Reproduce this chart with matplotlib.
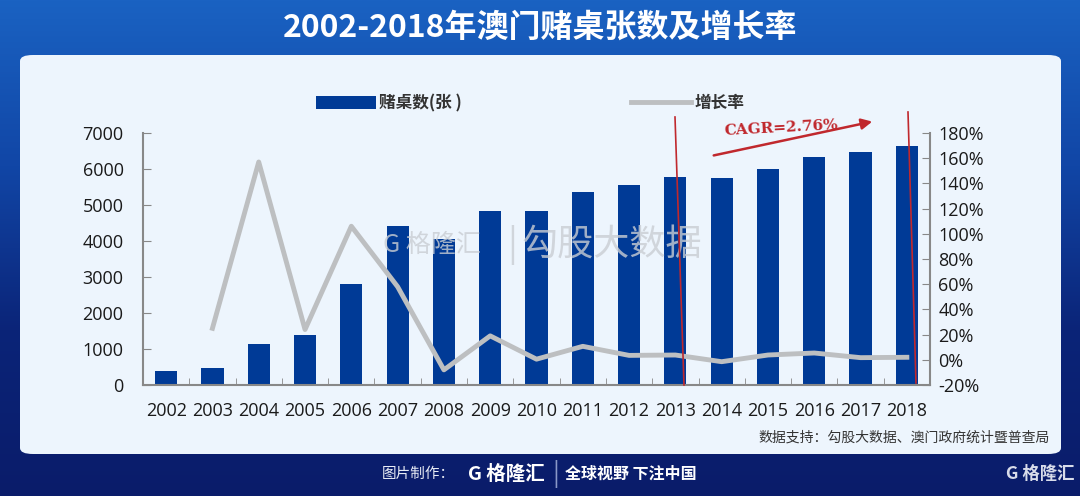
import numpy as np
import matplotlib
matplotlib.use('Agg')
import matplotlib.pyplot as plt
from matplotlib.patches import FancyBboxPatch, Patch
from matplotlib.lines import Line2D

plt.rcParams['font.family'] = ['Noto Sans CJK SC', 'DejaVu Sans']

# Data
years = ['2002', '2003', '2004', '2005', '2006', '2007', '2008', '2009', '2010',
         '2011', '2012', '2013', '2014', '2015', '2016', '2017', '2018']
tables = [390, 470, 1130, 1380, 2800, 4420, 4060, 4830, 4840,
          5360, 5560, 5790, 5740, 5990, 6320, 6460, 6650]
growth = [None, 25, 157, 24, 106, 58, -8, 19, 0.5,
          10.7, 3.5, 3.8, -1.5, 3.8, 5.4, 1.7, 2.0]

bar_color = '#003a96'
line_color = '#bdbfc1'
red = '#c0282d'

fig = plt.figure(figsize=(10.8, 4.96), dpi=100)

# gradient background
bg = fig.add_axes([0, 0, 1, 1])
grad = np.linspace(0, 1, 256).reshape(-1, 1)
cmap = matplotlib.colors.LinearSegmentedColormap.from_list('bg', ['#1a62c2', '#1146a6', '#0b2478', '#0a1c6a'])
bg.imshow(grad, aspect='auto', cmap=cmap, extent=[0, 1, 0, 1], origin='upper')
bg.set_xlim(0, 1)
bg.set_ylim(0, 1)
bg.axis('off')

# white panel
panel = FancyBboxPatch((20 / 1080, 42 / 496), 1041 / 1080, 399 / 496,
                       boxstyle='round,pad=0,rounding_size=0.012',
                       transform=fig.transFigure, facecolor='#edf5fd',
                       edgecolor='none', zorder=1)
bg.add_patch(panel)

fig.text(0.5, 1 - 28 / 496, '2002-2018年澳门赌桌张数及增长率', ha='center', va='center',
         color='white', fontsize=23, fontweight='semibold')

# watermark
fig.text(0.355, 1 - 245 / 496, 'G 格隆汇', color='#c9cdd3', fontsize=18, ha='left', va='center', alpha=0.8)
fig.text(0.47, 1 - 245 / 496, '|', color='#c9cdd3', fontsize=26, ha='left', va='center', alpha=0.8)
fig.text(0.483, 1 - 245 / 496, '勾股大数据', color='#c9cdd3', fontsize=26, ha='left', va='center', alpha=0.8)

ax = fig.add_axes([143 / 1080, 1 - 385 / 496, (930 - 143) / 1080, (385 - 133) / 496])
ax.patch.set_alpha(0)
x = np.arange(len(years))
ax.bar(x, tables, width=0.48, color=bar_color, zorder=2)
ax.set_xlim(-0.5, len(years) - 0.5)
ax.set_ylim(0, 7000)
ax.set_yticks(range(0, 7001, 1000))
ax.set_xticks(x)
ax.set_xticklabels(years)
ax.set_xticks(np.arange(-0.5, len(years)), minor=True)
ax.tick_params(axis='x', which='major', length=0, pad=12)
ax.tick_params(axis='x', which='minor', length=5, direction='in', color='#888888')
ax.tick_params(axis='y', length=6, direction='in', color='#888888', pad=14)
for lab in ax.get_xticklabels() + ax.get_yticklabels():
    lab.set_fontfamily('Open Sans')
    lab.set_fontsize(13)
    lab.set_color('#1a1a1a')
for s in ['top', 'right']:
    ax.spines[s].set_visible(False)
for s in ['left', 'bottom']:
    ax.spines[s].set_color('#888888')
    ax.spines[s].set_linewidth(1.5)

ax2 = ax.twinx()
gx = [i for i, g in enumerate(growth) if g is not None]
gy = [g for g in growth if g is not None]
ax2.plot(gx, gy, color=line_color, linewidth=3.5, zorder=3)
ax2.set_ylim(-20, 180)
ax2.set_yticks(range(-20, 181, 20))
ax2.set_yticklabels([f'{v}%' for v in range(-20, 181, 20)])
ax2.tick_params(axis='y', length=6, direction='in', color='#888888', pad=6)
for lab in ax2.get_yticklabels():
    lab.set_fontfamily('Open Sans')
    lab.set_fontsize(13)
    lab.set_color('#1a1a1a')
for s in ['top', 'left', 'bottom']:
    ax2.spines[s].set_visible(False)
ax2.spines['right'].set_color('#888888')
ax2.spines['right'].set_linewidth(1.5)

# legend (two entries placed separately like the original)
leg1 = fig.legend(handles=[Patch(facecolor=bar_color, label='赌桌数(张 )')],
                  loc='center left', bbox_to_anchor=(301 / 1080, 1 - 103 / 496),
                  frameon=False, fontsize=12, handlelength=3.6, handleheight=0.8,
                  handletextpad=0.2, labelcolor='#333333')
leg2 = fig.legend(handles=[Line2D([0], [0], color=line_color, linewidth=3.5, label='增长率')],
                  loc='center left', bbox_to_anchor=(616 / 1080, 1 - 103 / 496),
                  frameon=False, fontsize=12, handlelength=3.6,
                  handletextpad=0.2, labelcolor='#333333')
for t in leg1.get_texts() + leg2.get_texts():
    t.set_fontweight('bold')

# red annotations on a transparent overlay
top = fig.add_axes([0, 0, 1, 1], zorder=10)
top.set_xlim(0, 1)
top.set_ylim(0, 1)
top.axis('off')
top.patch.set_alpha(0)
top.plot([675 / 1080, 684 / 1080], [1 - 117 / 496, 1 - 385 / 496], color=red, lw=1.2)
top.plot([908 / 1080, 916 / 1080], [1 - 112 / 496, 1 - 383 / 496], color=red, lw=1.2)
top.annotate('', xy=(875 / 1080, 1 - 121 / 496), xytext=(711 / 1080, 1 - 156 / 496),
             arrowprops=dict(arrowstyle='-|>', color=red, lw=1.8, mutation_scale=16))
top.text(781 / 1080, 1 - 128 / 496, 'CAGR=2.76%', color=red, fontsize=11, fontweight='bold',
         family='DejaVu Serif', ha='center', va='center', rotation=3)

# source and footer
fig.text(1050 / 1080, 1 - 438 / 496, '数据支持：勾股大数据、澳门政府统计暨普查局', ha='right', va='center',
         fontsize=10, color='#333333')
fig.text(455 / 1080, 1 - 474 / 496, '图片制作：', ha='right', va='center', fontsize=10.5, color='#e8ecf5')
fig.text(468 / 1080, 1 - 474 / 496, 'G 格隆汇', ha='left', va='center', fontsize=14, color='white', fontweight='bold')
fig.text(556 / 1080, 1 - 474 / 496, '|', ha='center', va='center', fontsize=18, color='#8a98c8')
fig.text(565 / 1080, 1 - 474 / 496, '全球视野 下注中国', ha='left', va='center', fontsize=11.5, color='white', fontweight='bold')
fig.text(1074 / 1080, 1 - 474 / 496, 'G 格隆汇', ha='right', va='center', fontsize=12.5, color='#d8dcea', fontweight='bold')

plt.savefig('out.png', dpi=100)
